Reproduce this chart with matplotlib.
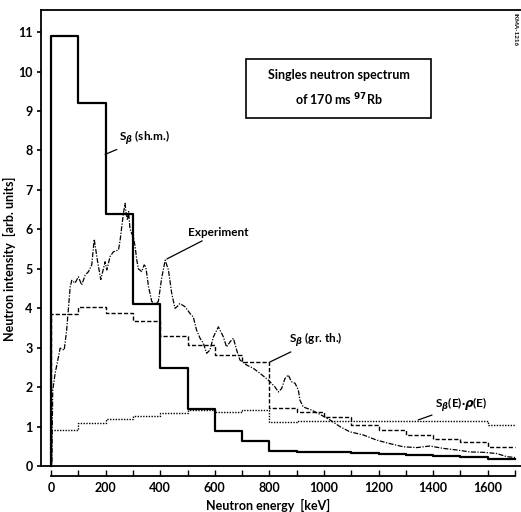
import numpy as np
import matplotlib.pyplot as plt
from matplotlib.patches import Rectangle

plt.rcParams['font.family'] = ['Liberation Sans Narrow', 'Lato', 'DejaVu Sans']
plt.rcParams['font.weight'] = 'bold'
plt.rcParams['axes.labelweight'] = 'bold'
plt.rcParams['mathtext.fontset'] = 'dejavusans'

# histogram bin edges (keV)
edges = np.arange(0, 1800, 100)

# S_beta (sh.m.) - solid
shm = [10.9, 9.2, 6.4, 4.1, 2.48, 1.44, 0.89, 0.63, 0.39, 0.37, 0.35, 0.33,
       0.31, 0.28, 0.25, 0.22, 0.18]
# S_beta (gr. th.) - dashed
grth = [3.85, 4.04, 3.88, 3.68, 3.3, 3.08, 2.82, 2.63, 1.47, 1.38, 1.24, 1.04,
        0.91, 0.80, 0.68, 0.62, 0.49]
# S_beta(E)*rho(E) - dotted
rho = [0.92, 1.1, 1.2, 1.28, 1.35, 1.43, 1.37, 1.42, 1.13, 1.14, 1.15, 1.15,
       1.15, 1.15, 1.15, 1.15, 1.05]

# Experiment curve
exp_e = [3, 4, 6, 15, 27, 33, 48, 57, 70, 76, 88, 100, 112, 125, 137, 149, 158,
         170, 182, 198, 204, 216, 228, 247, 253, 259, 265, 271, 275, 280, 284,
         289, 295, 302, 308, 314, 320, 332, 341, 347, 357, 369, 381, 393, 405,
         418, 430, 442, 454, 463, 472, 491, 509, 521, 533, 546, 558, 570, 582,
         595, 613, 631, 643, 656, 668, 680, 692, 717, 741, 766, 796, 820, 833,
         845, 857, 869, 881, 894, 906, 912, 924, 955, 991, 1022, 1059, 1095,
         1144, 1193, 1242, 1291, 1340, 1388, 1437, 1486, 1535, 1584, 1633,
         1670, 1700]
exp_v = [0.1, 0.8, 1.93, 2.36, 2.77, 2.99, 2.94, 3.45, 4.55, 4.71, 4.64, 4.8,
         4.59, 4.84, 4.93, 5.1, 5.75, 5.2, 4.73, 5.18, 4.97, 5.31, 5.43, 5.48,
         5.73, 6.07, 6.4, 6.66, 6.4, 6.24, 6.45, 6.02, 5.9, 5.8, 5.56, 5.22,
         5.0, 4.93, 5.1, 5.05, 4.55, 4.17, 4.12, 4.17, 4.76, 5.22, 4.97, 4.38,
         4.0, 4.05, 4.12, 4.04, 3.87, 3.78, 3.45, 3.24, 3.11, 2.86, 2.94, 3.28,
         3.53, 3.28, 3.02, 3.15, 3.24, 2.94, 2.69, 2.56, 2.48, 2.35, 2.18, 2.01,
         1.88, 1.97, 2.22, 2.31, 2.14, 2.1, 1.93, 1.67, 1.5, 1.42, 1.29, 1.17,
         1.0, 0.87, 0.79, 0.66, 0.57, 0.49, 0.47, 0.51, 0.45, 0.41, 0.36, 0.35,
         0.32, 0.24, 0.22]


def steps(vals):
    # start from zero at E=0 so the first edge is drawn
    x = np.concatenate([[0], edges])
    y = np.concatenate([[0], vals, [vals[-1]]])
    return x, y


fig = plt.figure(figsize=(5.21, 5.12), dpi=100)
ax = fig.add_axes([0.0787, 0.0703, 0.9213, 0.9102])

x, y = steps(shm)
ax.step(x, y, where='post', color='black', lw=1.6)
x, y = steps(grth)
ax.step(x, y, where='post', color='black', lw=1.0, linestyle=(0, (3, 1.5)))
x, y = steps(rho)
ax.step(x, y, where='post', color='black', lw=1.0, linestyle=(0, (1, 1)))
ax.plot(exp_e, exp_v, color='black', lw=0.9, linestyle=(0, (4, 1.2, 1, 1.2)))

ax.axhline(0, color='black', lw=1.3)

ax.set_xlim(-37, 1722)
ax.set_ylim(-0.25, 11.56)

ax.spines['right'].set_visible(False)
ax.spines['left'].set_bounds(0, 11.56)
ax.spines['bottom'].set_bounds(0, 1700)
for s in ax.spines.values():
    s.set_linewidth(1.3)

ax.set_yticks(range(0, 12))
ax.set_xticks(range(0, 1700, 200))
ax.set_xticks(range(0, 1800, 100), minor=True)
ax.tick_params(axis='y', direction='out', length=3, width=1.2, labelsize=9, pad=3)
ax.tick_params(axis='x', which='both', direction='in', length=4, width=1.0,
               labelsize=9, pad=4)

ax.set_xlabel('Neutron energy  [keV]', fontsize=9)
ax.set_ylabel('Neutron intensity  [arb. units]', fontsize=9)
ax.xaxis.set_label_coords(0.473, -0.05)
ax.yaxis.set_label_coords(-0.052, 0.465)

# annotations
line = dict(arrowstyle='-', color='black', lw=0.9, shrinkA=0, shrinkB=0)
ax.annotate(r'S$_\beta$ (sh.m.)', xy=(198, 7.9), xytext=(250, 8.25),
            fontsize=8.5, arrowprops=line)
ax.annotate('Experiment', xy=(424, 5.25), xytext=(502, 5.83),
            fontsize=8.5, arrowprops=line)
ax.annotate(r'S$_\beta$ (gr. th.)', xy=(802, 2.64), xytext=(870, 3.12),
            fontsize=8.5, arrowprops=line)
ax.annotate(r'S$_\beta$(E)·$\rho$(E)', xy=(1345, 1.17), xytext=(1406, 1.48),
            fontsize=8.5, arrowprops=line)

# boxed title
ax.add_patch(Rectangle((714, 8.82), 678, 1.5, fill=False, ec='black', lw=1.2))
ax.text(1053, 9.57, 'Singles neutron spectrum\nof 170 ms $^{97}$Rb', ha='center',
        va='center', fontsize=9, linespacing=1.7)

fig.text(0.988, 0.975, 'IKMA-1216', rotation=270, fontsize=4.5, ha='center',
         va='top')

fig.savefig('out.png', dpi=100)
